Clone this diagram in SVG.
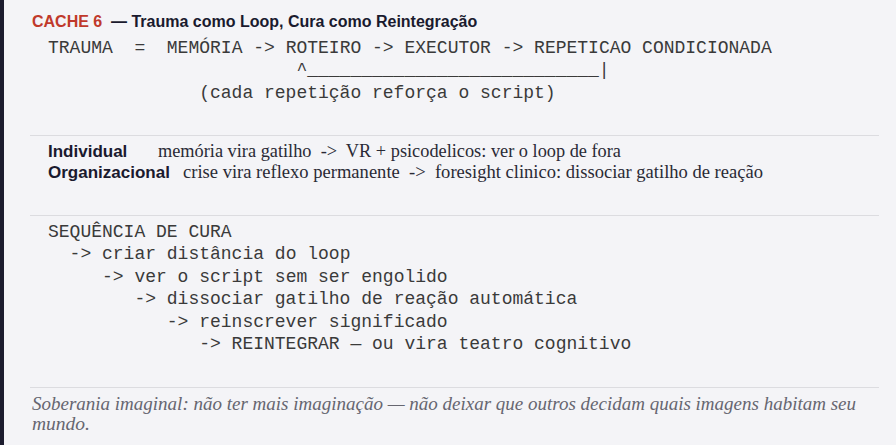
<svg xmlns="http://www.w3.org/2000/svg" width="896" height="445" viewBox="0 0 896 445">
  <style>
    .mono { font-family: "Liberation Mono", "Courier New", monospace; font-size: 18px; fill: #3a3a3a; white-space: pre; }
    .serif { font-family: "Liberation Serif", "Times New Roman", serif; font-size: 18px; fill: #2a2a35; white-space: pre; }
    .lbl { font-family: "Liberation Sans", Arial, sans-serif; font-size: 17px; font-weight: bold; fill: #1a1a2e; }
    .title { font-family: "Liberation Sans", Arial, sans-serif; font-size: 16px; font-weight: bold; }
    .foot { font-family: "Liberation Serif", "Times New Roman", serif; font-size: 18px; font-style: italic; fill: #666670; }
    .sep { stroke: #dcdce0; stroke-width: 1; }
  </style>
  <rect x="0" y="0" width="896" height="445" fill="#f4f4f7"/>
  <rect x="0" y="0" width="4" height="445" fill="#1c1c2e"/>

  <g id="title">
    <text class="title" x="32" y="27" fill="#c0392b">CACHE 6</text>
    <text class="title" x="111" y="27" fill="#1a1a2e">— Trauma como Loop, Cura como Reintegração</text>
  </g>

  <g id="trauma-formula">
    <text class="mono" x="48" y="52.5" xml:space="preserve">TRAUMA  =  MEMÓRIA -&gt; ROTEIRO -&gt; EXECUTOR -&gt; REPETICAO CONDICIONADA</text>
    <text class="mono" x="296.4" y="75" xml:space="preserve">^___________________________|</text>
    <text class="mono" x="199.2" y="97.5" xml:space="preserve">(cada repetição reforça o script)</text>
  </g>

  <g id="separators">
    <line class="sep" x1="30" y1="135.5" x2="879" y2="135.5"/>
    <line class="sep" x1="30" y1="215.5" x2="879" y2="215.5"/>
    <line class="sep" x1="30" y1="387.5" x2="879" y2="387.5"/>
  </g>

  <g id="levels">
    <g id="individual">
      <text class="lbl" x="48" y="157">Individual</text>
      <text class="serif" x="158" y="157" textLength="463" lengthAdjust="spacingAndGlyphs" xml:space="preserve">memória vira gatilho  -&gt;  VR + psicodelicos: ver o loop de fora</text>
    </g>
    <g id="organizacional">
      <text class="lbl" x="48" y="178">Organizacional</text>
      <text class="serif" x="183" y="178" textLength="580" lengthAdjust="spacingAndGlyphs" xml:space="preserve">crise vira reflexo permanente  -&gt;  foresight clinico: dissociar gatilho de reação</text>
    </g>
  </g>

  <g id="cura-sequence">
    <text class="mono" x="48" y="236.5">SEQUÊNCIA DE CURA</text>
    <text class="mono" x="69.6" y="259">-&gt; criar distância do loop</text>
    <text class="mono" x="102" y="281.5">-&gt; ver o script sem ser engolido</text>
    <text class="mono" x="134.4" y="304">-&gt; dissociar gatilho de reação automática</text>
    <text class="mono" x="166.8" y="326.5">-&gt; reinscrever significado</text>
    <text class="mono" x="199.2" y="349">-&gt; REINTEGRAR — ou vira teatro cognitivo</text>
  </g>

  <g id="footer">
    <text class="foot" x="32" y="410" textLength="824" lengthAdjust="spacingAndGlyphs">Soberania imaginal: não ter mais imaginação — não deixar que outros decidam quais imagens habitam seu</text>
    <text class="foot" x="32" y="429.5" textLength="58" lengthAdjust="spacingAndGlyphs">mundo.</text>
  </g>
</svg>
